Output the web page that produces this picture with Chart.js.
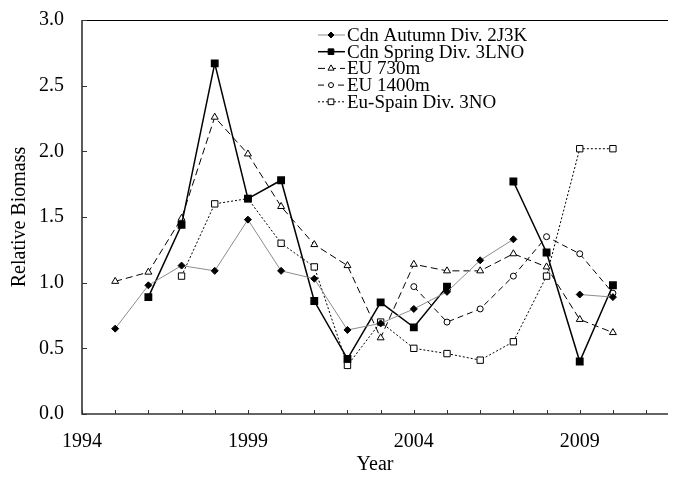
<!DOCTYPE html>
<html lang="en">
<head>
  <meta charset="utf-8">
  <title>Relative Biomass</title>
  <script src="https://cdn.jsdelivr.net/npm/chart.js@4.4.1/dist/chart.umd.min.js"></script>
  <style>
    html, body { margin: 0; padding: 0; background: #fff; overflow: hidden; }
    #chart-0 { display: block; }
  </style>
</head>
<body>
  <canvas id="chart-0" width="674" height="477"></canvas>

  <script>
    // survey years and relative biomass per series (null = no survey)
    let years = [1995, 1996, 1997, 1998, 1999, 2000, 2001, 2002, 2003, 2004, 2005, 2006, 2007, 2008, 2009, 2010];
    let cdnAutumn = [0.65, 0.98, 1.13, 1.09, 1.48, 1.09, 1.03, 0.64, 0.69, 0.80, 0.93, 1.17, 1.33, null, 0.91, 0.89];
    let cdnSpring = [null, 0.89, 1.44, 2.67, 1.64, 1.78, 0.86, 0.42, 0.85, 0.66, 0.97, null, 1.77, 1.23, 0.40, 0.98];
    let eu730 = [1.01, 1.08, 1.49, 2.26, 1.98, 1.58, 1.29, 1.13, 0.58, 1.14, 1.09, 1.09, 1.22, 1.12, 0.72, 0.62];
    let eu1400 = [null, null, null, null, null, null, null, null, null, 0.97, 0.70, 0.80, 1.05, 1.35, 1.22, 0.92];
    let euSpain = [null, null, 1.05, 1.60, 1.64, 1.30, 1.12, 0.37, 0.70, 0.50, 0.46, 0.41, 0.55, 1.05, 2.02, 2.02];

    let yTicks = [0, 0.5, 1, 1.5, 2, 2.5, 3];
    let xLabelYears = [1994, 1999, 2004, 2009];
    let xMin = 1994;
    let xMax = 2011.66;

    let serif = "'Liberation Serif', 'Times New Roman', serif";

    function points(values) {
      return years.map(function(yr, i) {
        return {x: yr, y: values[i]};
      });
    }

    // frame, axis lines and inward tick marks
    let framePlugin = {
      id: 'frame',
      beforeDatasetsDraw: function(chart) {
        let ctx = chart.ctx;
        let area = chart.chartArea;
        let xs = chart.scales.x;
        let ys = chart.scales.y;
        ctx.save();
        ctx.strokeStyle = '#000';
        ctx.lineWidth = 1;
        ctx.beginPath();
        ctx.moveTo(area.left, area.top + 0.5);
        ctx.lineTo(area.right, area.top + 0.5);
        ctx.stroke();

        ctx.strokeStyle = '#333';
        ctx.lineWidth = 1.6;
        ctx.beginPath();
        ctx.moveTo(area.left, area.top);
        ctx.lineTo(area.left, area.bottom);
        ctx.lineTo(area.right, area.bottom);
        ctx.stroke();

        ctx.lineWidth = 1;
        ctx.beginPath();
        xs.ticks.forEach(function(t) {
          let px = Math.round(xs.getPixelForValue(t.value)) + 0.5;
          ctx.moveTo(px, area.bottom);
          ctx.lineTo(px, area.bottom - 4);
        });
        yTicks.forEach(function(v) {
          let py = Math.round(ys.getPixelForValue(v)) + 0.5;
          ctx.moveTo(area.left, py);
          ctx.lineTo(area.left + 5, py);
        });
        ctx.stroke();
        ctx.restore();
      }
    };

    // line + marker legend, stacked like the original
    let legendPlugin = {
      id: 'seriesLegend',
      afterDraw: function(chart) {
        let ctx = chart.ctx;
        ctx.save();
        chart.data.datasets.forEach(function(ds, i) {
          let y = 35 + i * 16.7;
          ctx.strokeStyle = ds.borderColor;
          ctx.lineWidth = ds.borderWidth;
          ctx.setLineDash(ds.borderDash || []);
          ctx.beginPath();
          ctx.moveTo(318, y);
          ctx.lineTo(345, y);
          ctx.stroke();
          ctx.setLineDash([]);

          ctx.fillStyle = ds.pointBackgroundColor;
          ctx.strokeStyle = ds.pointBorderColor;
          ctx.lineWidth = 1;
          Chart.helpers.drawPoint(ctx, {
            pointStyle: ds.pointStyle,
            radius: ds.pointRadius - 0.5,
            borderWidth: 1,
            rotation: 0
          }, 331, y);

          ctx.fillStyle = '#000';
          ctx.font = '19px ' + serif;
          ctx.textAlign = 'left';
          ctx.textBaseline = 'middle';
          ctx.fillText(ds.label, 347, y + 1);
        });
        ctx.restore();
      }
    };

    let config = {
      datasets: [
        {
          label: 'Cdn Autumn Div. 2J3K',
          data: points(cdnAutumn),
          borderColor: '#8c8c8c',
          borderWidth: 1,
          pointStyle: 'rectRot',
          pointRadius: 3.5,
          pointBackgroundColor: '#000',
          pointBorderColor: '#000'
        },
        {
          label: 'Cdn Spring Div. 3LNO',
          data: points(cdnSpring),
          borderColor: '#000',
          borderWidth: 1.5,
          pointStyle: 'rect',
          pointRadius: 4.5,
          pointBackgroundColor: '#000',
          pointBorderColor: '#000'
        },
        {
          label: 'EU 730m',
          data: points(eu730),
          borderColor: '#000',
          borderWidth: 1,
          borderDash: [7, 4],
          pointStyle: 'triangle',
          pointRadius: 4,
          pointBackgroundColor: '#fff',
          pointBorderColor: '#000'
        },
        {
          label: 'EU 1400m',
          data: points(eu1400),
          borderColor: '#000',
          borderWidth: 1,
          borderDash: [6, 4],
          pointStyle: 'circle',
          pointRadius: 3,
          pointBackgroundColor: '#fff',
          pointBorderColor: '#000'
        },
        {
          label: 'Eu-Spain Div. 3NO',
          data: points(euSpain),
          borderColor: '#000',
          borderWidth: 1,
          borderDash: [2, 2],
          pointStyle: 'rect',
          pointRadius: 4.5,
          pointBackgroundColor: '#fff',
          pointBorderColor: '#000'
        }
      ]
    };

    let chart = new Chart('chart-0', {
      type: 'line',
      data: config,
      plugins: [framePlugin, legendPlugin],
      options: {
        responsive: false,
        animation: false,
        spanGaps: false,
        layout: {
          padding: {top: 20, left: 0, right: 0, bottom: 0}
        },
        plugins: {
          legend: {display: false},
          tooltip: {enabled: false}
        },
        scales: {
          x: {
            type: 'linear',
            min: xMin,
            max: xMax,
            bounds: 'data',
            grid: {display: false, drawTicks: false},
            border: {display: false},
            ticks: {
              stepSize: 1,
              includeBounds: false,
              autoSkip: false,
              maxRotation: 0,
              padding: 16,
              color: '#000',
              font: {family: serif, size: 20},
              callback: function(v) {
                return xLabelYears.indexOf(v) >= 0 ? String(v) : '';
              }
            },
            title: {
              display: true,
              text: 'Year',
              color: '#000',
              font: {family: serif, size: 20},
              padding: {top: 0, bottom: 0}
            },
            afterFit: function(scale) {
              scale.height = 63;
              scale.paddingLeft = 0;
              scale.paddingRight = 0;
            }
          },
          y: {
            min: 0,
            max: 3,
            grid: {display: false, drawTicks: false},
            border: {display: false},
            ticks: {
              stepSize: 0.5,
              padding: 18,
              color: '#000',
              font: {family: serif, size: 20},
              callback: function(v) {
                return v.toFixed(1);
              }
            },
            title: {
              display: true,
              text: 'Relative Biomass',
              color: '#000',
              font: {family: serif, size: 20},
              padding: {top: 8, bottom: 0}
            },
            afterFit: function(scale) {
              scale.width = 82;
              scale.paddingTop = 0;
              scale.paddingBottom = 0;
            }
          }
        }
      }
    });
  </script>
</body>
</html>
